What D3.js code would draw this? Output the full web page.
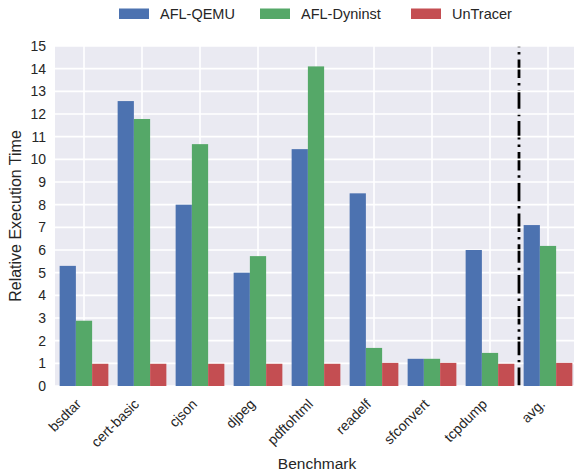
<!DOCTYPE html>
<html><head><meta charset="utf-8">
<script src="https://cdn.jsdelivr.net/npm/d3@7"></script>
<style>html,body{margin:0;padding:0;background:#fff;overflow:hidden}svg{display:block}</style>
</head><body><svg id="c" width="574" height="473"></svg>
<script>
const categories = ["bsdtar","cert-basic","cjson","djpeg","pdftohtml","readelf","sfconvert","tcpdump","avg."];
const seriesNames = ["AFL-QEMU","AFL-Dyninst","UnTracer"];
const aflQemu    = [5.3, 12.57, 8.0, 5.0, 10.45, 8.5, 1.2, 6.0, 7.1];
const aflDyninst = [2.88, 11.78, 10.67, 5.73, 14.1, 1.68, 1.2, 1.46, 6.18];
const unTracer   = [0.98, 0.98, 0.98, 0.98, 0.98, 1.02, 1.02, 0.98, 1.02];
const yTicks = [0,1,2,3,4,5,6,7,8,9,10,11,12,13,14,15];
const colors = ["#4C72B0","#55A868","#C44E52"];
const series = [aflQemu, aflDyninst, unTracer];

(function(){
const svg = d3.select("#c");
const pLeft = 55, pRight = 577, pTop = 46, pBottom = 386;
const font = "'Liberation Sans', Arial, Helvetica, sans-serif";
const txt = "#262626";

const x = d3.scaleBand().domain(categories).range([pLeft, pRight]).paddingInner(0).paddingOuter(0);
const y = d3.scaleLinear().domain([0, 15]).range([pBottom, pTop]);
const barW = x.bandwidth() * 0.28;

svg.append("rect").attr("x", pLeft).attr("y", pTop).attr("width", pRight - pLeft).attr("height", pBottom - pTop).attr("fill", "#EAEAF2");

// dash-dot separator between tcpdump and avg. (drawn from bottom upward, below grid)
const sepX = x("avg.");
svg.append("line").attr("x1", sepX).attr("x2", sepX).attr("y1", y(0)).attr("y2", y(15))
  .attr("stroke", "#000").attr("stroke-width", 2.8).attr("stroke-dasharray", "18.5,4.9,2.5,4.9");

// grid
svg.append("g").selectAll("line").data(yTicks).join("line")
  .attr("x1", pLeft).attr("x2", pRight).attr("y1", d => y(d)).attr("y2", d => y(d))
  .attr("stroke", "#fff").attr("stroke-width", 1.6);
svg.append("g").selectAll("line").data(categories).join("line")
  .attr("x1", d => x(d) + x.bandwidth()/2).attr("x2", d => x(d) + x.bandwidth()/2)
  .attr("y1", pTop).attr("y2", pBottom).attr("stroke", "#fff").attr("stroke-width", 1.6);

// bars
series.forEach((vals, si) => {
  svg.append("g").selectAll("rect").data(vals).join("rect")
    .attr("x", (d, i) => x(categories[i]) + x.bandwidth()/2 + (si - 1.5) * barW)
    .attr("width", barW)
    .attr("y", d => y(d))
    .attr("height", d => y(0) - y(d))
    .attr("fill", colors[si]);
});

// y axis labels
svg.append("g").selectAll("text").data(yTicks).join("text")
  .attr("x", pLeft - 9).attr("y", d => y(d)).attr("dy", "0.35em")
  .attr("text-anchor", "end").attr("font-family", font).attr("font-size", 14).attr("fill", txt)
  .text(d => d);

// x labels
svg.append("g").selectAll("text").data(categories).join("text")
  .attr("transform", d => `translate(${x(d) + x.bandwidth()/2 - 2},${pBottom + 19}) rotate(-45)`)
  .attr("text-anchor", "end").attr("font-family", font).attr("font-size", 14).attr("fill", txt)
  .text(d => d);

// axis titles
svg.append("text").attr("x", 317).attr("y", 468.5).attr("text-anchor", "middle")
  .attr("font-family", font).attr("font-size", 15.5).attr("fill", txt).text("Benchmark");
svg.append("text").attr("transform", `translate(21,${(pTop + pBottom) / 2}) rotate(-90)`).attr("text-anchor", "middle")
  .attr("font-family", font).attr("font-size", 16).attr("fill", txt).text("Relative Execution Time");

// legend
const legX = [119, 260, 411];
const lg = svg.append("g");
seriesNames.forEach((n, i) => {
  lg.append("rect").attr("x", legX[i]).attr("y", 8.5).attr("width", 30).attr("height", 10.5).attr("fill", colors[i]);
  lg.append("text").attr("x", legX[i] + 41).attr("y", 18.5).attr("font-family", font).attr("font-size", 14.5).attr("fill", txt).text(n);
});
})();
</script></body></html>
